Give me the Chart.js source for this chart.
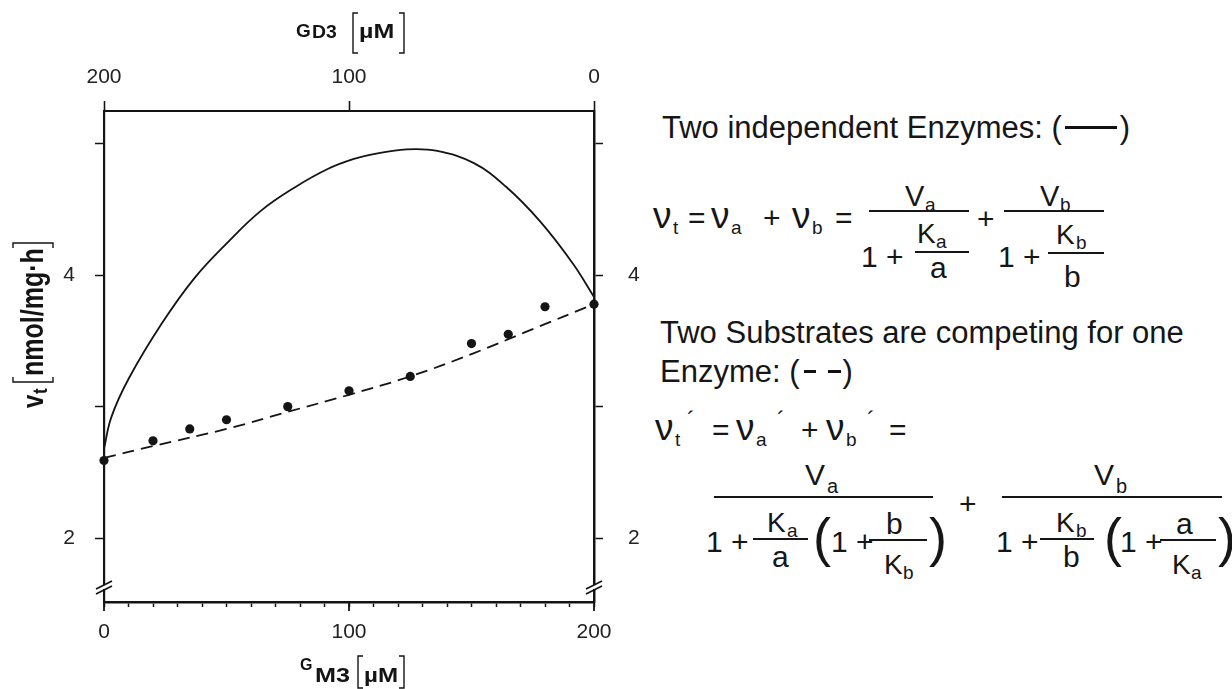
<!DOCTYPE html>
<html>
<head>
<meta charset="utf-8">
<script src="https://cdn.jsdelivr.net/npm/chart.js@4.4.1/dist/chart.umd.min.js"></script>
<style>
  html, body { margin: 0; padding: 0; background: #fff; }
  #page { position: relative; width: 1232px; height: 689px; overflow: hidden; }
  #plot { position: absolute; left: 0; top: 0; }
  .t { position: absolute; font-family: "Liberation Sans", Arial, sans-serif; color: #161616; line-height: 1; white-space: nowrap; }
  .rule { position: absolute; height: 2px; background: #161616; }
  .leg { display: inline-block; vertical-align: middle; height: 3px; background: #111; position: relative; top: -2px; }
</style>
</head>
<body>
<div id="page">
  <canvas id="plot" width="640" height="689"></canvas>
  <div id="eq"></div>
</div>
<script>
// axes (µM on x, nmol/mg·h on y)
const gm3Ticks = [0, 10, 20, 30, 40, 50, 60, 70, 80, 90, 100, 110, 120, 130, 140, 150, 160, 170, 180, 190, 200];
const gm3Labels = [0, 100, 200];
const gd3Ticks = [0, 100, 200];
const vtTicks = [2, 3, 4, 5];
const vtLabels = [2, 4];
const vtMin = 1.513;
const vtMax = 5.25;
const breakAt = 1.62;

// measured points
const measuredGm3 = [0, 20, 35, 50, 75, 100, 125, 150, 165, 180, 200];
const measuredVt = [2.59, 2.74, 2.83, 2.90, 3.00, 3.12, 3.23, 3.48, 3.55, 3.76, 3.78];

// two independent enzymes (solid)
const independentGm3 = [0, 3, 10, 23.5, 37, 51, 64, 78, 91.5, 102, 110, 123.5, 136, 151, 164, 178, 191.5, 200];
const independentVt = [2.68, 2.92, 3.21, 3.63, 3.98, 4.26, 4.49, 4.67, 4.81, 4.885, 4.922, 4.958, 4.946, 4.853, 4.675, 4.41, 4.086, 3.835];

// two substrates competing for one enzyme (dashed)
const competingGm3 = [0, 20, 50, 75, 100, 125, 150, 175, 200];
const competingVt = [2.61, 2.70, 2.83, 2.96, 3.09, 3.23, 3.40, 3.59, 3.78];

const ink = "#141414";
const face = "Liberation Sans";
const pts = (xs, ys) => xs.map((x, i) => ({ x, y: ys[i] }));
const tickFont = { family: face, size: 21 };

function line(ctx, x1, y1, x2, y2) {
  ctx.beginPath();
  ctx.moveTo(x1, y1);
  ctx.lineTo(x2, y2);
  ctx.stroke();
}

function bracket(ctx, x, top, bottom, dir) {
  ctx.beginPath();
  ctx.moveTo(x + 5 * dir, top);
  ctx.lineTo(x, top);
  ctx.lineTo(x, bottom);
  ctx.lineTo(x + 5 * dir, bottom);
  ctx.stroke();
}

function stretched(ctx, text, x, y, font, sx, sy) {
  ctx.save();
  ctx.translate(x, y);
  ctx.scale(sx, sy || 1);
  ctx.font = font;
  ctx.fillText(text, 0, 0);
  ctx.restore();
}

const frame = {
  id: "frame",
  afterDraw(chart) {
    const { ctx, chartArea: a, scales: { x, y } } = chart;
    ctx.save();
    ctx.strokeStyle = ink;
    ctx.fillStyle = ink;
    ctx.textBaseline = "alphabetic";
    ctx.textAlign = "left";

    // longer ticks at labelled bottom values
    ctx.lineWidth = 1.8;
    gm3Labels.forEach((v) => {
      const px = x.getPixelForValue(v);
      line(ctx, px, a.bottom, px, a.bottom + 9);
    });

    // axis breaks on both vertical axes
    const by = y.getPixelForValue(breakAt);
    [a.left, a.right].forEach((px) => {
      ctx.fillStyle = "#fff";
      ctx.fillRect(px - 2, by - 3, 4, 4);
      ctx.fillStyle = ink;
      ctx.lineWidth = 1.6;
      line(ctx, px - 8, by + 1, px + 8, by - 7);
      line(ctx, px - 8, by + 6, px + 8, by - 2);
    });

    // top title G_D3 [µM]
    ctx.lineWidth = 1.4;
    ctx.font = `bold 19px "${face}"`;
    ctx.fillText("G", 296, 37);
    stretched(ctx, "D3", 312, 38, `bold 19px "${face}"`, 1.02);
    bracket(ctx, 353, 13, 53, 1);
    stretched(ctx, "µM", 359, 38, `bold 20px "${face}"`, 1.25);
    bracket(ctx, 404, 13, 53, -1);

    // bottom title G_M3 [µM]
    ctx.font = `bold 16px "${face}"`;
    ctx.fillText("G", 300, 670);
    stretched(ctx, "M3", 315, 682, `bold 21px "${face}"`, 1.2);
    bracket(ctx, 358, 656, 688, 1);
    stretched(ctx, "µM", 364, 682, `bold 21px "${face}"`, 1.15);
    bracket(ctx, 404, 656, 688, -1);

    // left title v_t [nmol/mg·h], rotated
    ctx.save();
    ctx.translate(43, 322);
    ctx.rotate(-Math.PI / 2);
    stretched(ctx, "v", -86, 0, `bold 24px "${face}"`, 1, 1.2);
    stretched(ctx, "t", -72, 4, `bold 17px "${face}"`, 1, 1.2);
    ctx.lineWidth = 1.4;
    bracket(ctx, -60, -30, 10, 1);
    stretched(ctx, "nmol/mg·h", -54, 0, `bold 25px "${face}"`, 1, 1.25);
    bracket(ctx, 79, -30, 10, -1);
    ctx.restore();

    ctx.restore();
  }
};

const fixedTicks = (values) => (scale) => {
  scale.ticks = values.map((v) => ({ value: v }));
};

new Chart(document.getElementById("plot"), {
  type: "scatter",
  data: {
    datasets: [
      {
        label: "measured",
        data: pts(measuredGm3, measuredVt),
        pointRadius: 4.6,
        pointBackgroundColor: ink,
        pointBorderWidth: 0,
        showLine: false,
        clip: false
      },
      {
        label: "Two independent Enzymes",
        data: pts(independentGm3, independentVt),
        showLine: true,
        borderColor: ink,
        borderWidth: 1.8,
        pointRadius: 0,
        tension: 0.4,
        clip: false
      },
      {
        label: "Two Substrates competing for one Enzyme",
        data: pts(competingGm3, competingVt),
        showLine: true,
        borderColor: ink,
        borderWidth: 1.8,
        borderDash: [12, 7],
        pointRadius: 0,
        tension: 0.4,
        clip: false
      }
    ]
  },
  options: {
    responsive: false,
    animation: false,
    events: [],
    layout: { padding: 0, autoPadding: false },
    plugins: { legend: { display: false }, tooltip: { enabled: false } },
    scales: {
      x: {
        type: "linear",
        axis: "x",
        position: "bottom",
        min: 0,
        max: 200,
        afterBuildTicks: fixedTicks(gm3Ticks),
        afterFit: (s) => { s.height = 87; },
        ticks: {
          autoSkip: false,
          maxRotation: 0,
          padding: 13,
          color: "#222",
          font: tickFont,
          callback: (v) => (gm3Labels.includes(v) ? String(v) : "")
        },
        grid: { drawOnChartArea: false, tickLength: 5, tickWidth: 1.5, tickColor: ink },
        border: { color: ink, width: 2.5 }
      },
      x2: {
        type: "linear",
        axis: "x",
        position: "top",
        reverse: true,
        min: 0,
        max: 200,
        afterBuildTicks: fixedTicks(gd3Ticks),
        afterFit: (s) => { s.height = 111; },
        ticks: { autoSkip: false, maxRotation: 0, padding: 11, color: "#222", font: tickFont },
        grid: { drawOnChartArea: false, tickLength: 10, tickWidth: 1.6, tickColor: ink },
        border: { color: ink, width: 2 }
      },
      y: {
        type: "linear",
        axis: "y",
        position: "left",
        min: vtMin,
        max: vtMax,
        afterBuildTicks: fixedTicks(vtTicks),
        afterFit: (s) => { s.width = 104; },
        ticks: {
          padding: 20,
          color: "#222",
          font: tickFont,
          callback: (v) => (vtLabels.includes(v) ? String(v) : "")
        },
        grid: { drawOnChartArea: false, tickLength: 9, tickWidth: 1.5, tickColor: ink },
        border: { color: ink, width: 2.2 }
      },
      y2: {
        type: "linear",
        axis: "y",
        position: "right",
        min: vtMin,
        max: vtMax,
        afterBuildTicks: fixedTicks(vtTicks),
        afterFit: (s) => { s.width = 46; },
        ticks: {
          padding: 25,
          color: "#222",
          font: tickFont,
          callback: (v) => (vtLabels.includes(v) ? String(v) : "")
        },
        grid: { drawOnChartArea: false, tickLength: 9, tickWidth: 1.5, tickColor: ink },
        border: { color: ink, width: 2.5 }
      }
    }
  },
  plugins: [frame]
});

// equations on the right
const eq = document.getElementById("eq");
function put(html, x, base, size) {
  const s = document.createElement("span");
  s.className = "t";
  s.innerHTML = html;
  s.style.left = x + "px";
  s.style.top = (base - 0.8465 * size) + "px";
  s.style.fontSize = size + "px";
  eq.appendChild(s);
}
function rule(x1, x2, y) {
  const d = document.createElement("div");
  d.className = "rule";
  d.style.left = x1 + "px";
  d.style.width = (x2 - x1) + "px";
  d.style.top = (y - 1) + "px";
  eq.appendChild(d);
}

put('Two independent Enzymes: (<span class="leg" style="width:52px;margin:0 3px"></span>)', 662, 138, 31);

put("ν", 653, 228, 37); put("t", 673, 234, 19);
put("=", 688, 228, 30);
put("ν", 711, 228, 37); put("a", 731, 234, 19);
put("+", 763, 228, 30);
put("ν", 792, 228, 37); put("b", 812, 234, 19);
put("=", 835, 228, 30);

rule(869, 969, 211);
put("V", 905, 207, 29); put("a", 925, 211, 19);
put("1 +", 861, 267, 30);
put("K", 917, 244, 28); put("a", 936, 248, 19);
rule(915, 969, 252);
put("a", 930, 278, 30);
put("+", 977, 229, 30);
rule(1004, 1104, 211);
put("V", 1040, 207, 29); put("b", 1060, 211, 19);
put("1 +", 998, 267, 30);
put("K", 1056, 245, 28); put("b", 1076, 249, 19);
rule(1048, 1104, 253);
put("b", 1064, 287, 30);

put("Two Substrates are competing for one", 660, 343, 31);
put('Enzyme: (<span class="leg" style="width:12px;margin:0 6px 0 4px"></span><span class="leg" style="width:13px;margin:0 2px 0 6px"></span>)', 660, 382, 31);

put("ν", 655, 440, 37); put("t", 675, 446, 19); put("´", 687, 428, 24);
put("=", 712, 440, 30);
put("ν", 736, 440, 37); put("a", 756, 446, 19); put("´", 777, 428, 24);
put("+", 801, 440, 30);
put("ν", 826, 440, 37); put("b", 846, 446, 19); put("´", 867, 428, 24);
put("=", 889, 440, 30);

rule(714, 933, 497);
put("V", 805, 485, 30); put("a", 827, 493, 20);
put("1 +", 706, 552, 30);
put("K", 767, 533, 28); put("a", 787, 537, 19);
rule(753, 808, 539);
put("a", 772, 567, 30);
put("(", 813, 556, 54);
put("1 +", 831, 552, 30);
put("b", 886, 534, 30);
rule(869, 927, 540);
put("K", 884, 575, 28); put("b", 903, 579, 19);
put(")", 929, 556, 54);
put("+", 959, 514, 30);
rule(1002, 1222, 497);
put("V", 1094, 485, 30); put("b", 1116, 493, 20);
put("1 +", 996, 552, 30);
put("K", 1056, 533, 28); put("b", 1076, 537, 19);
rule(1040, 1094, 539);
put("b", 1063, 567, 30);
put("(", 1104, 556, 54);
put("1 +", 1120, 552, 30);
put("a", 1176, 534, 30);
rule(1160, 1216, 540);
put("K", 1172, 575, 28); put("a", 1191, 579, 19);
put(")", 1218, 556, 54);
</script>
</body>
</html>
